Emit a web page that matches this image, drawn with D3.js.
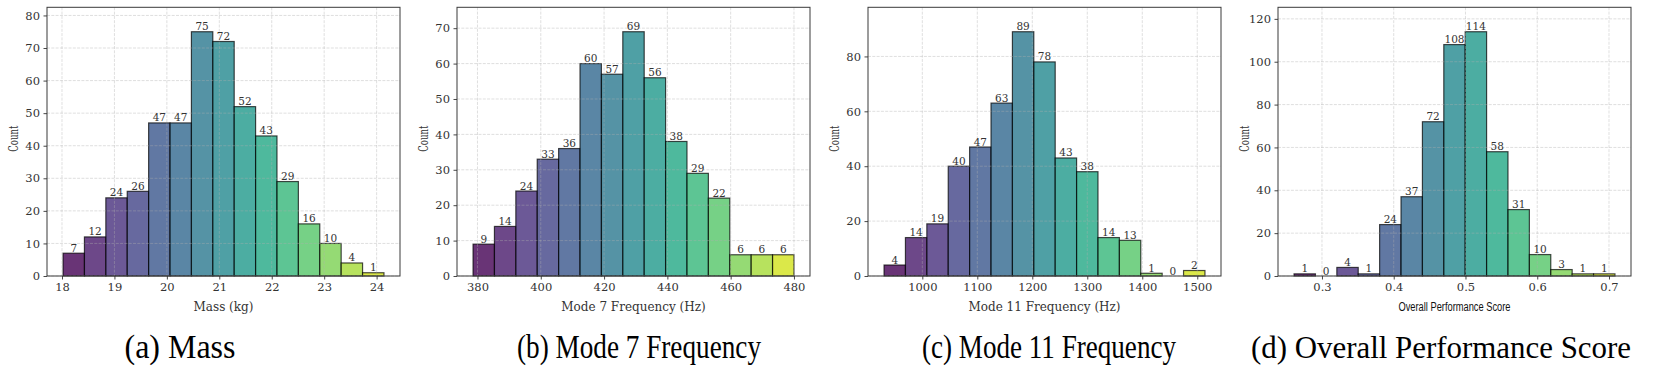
<!DOCTYPE html>
<html>
<head>
<meta charset="utf-8">
<script src="https://cdn.jsdelivr.net/npm/d3@7/dist/d3.min.js"></script>
<style>
  html, body { margin: 0; padding: 0; background: #ffffff; }
  svg { display: block; }
</style>
</head>
<body>
<svg id="chart" width="1661" height="386"></svg>
<script>
// ---------------- DATA ----------------
const massCounts = [7, 12, 24, 26, 47, 47, 75, 72, 52, 43, 29, 16, 10, 4, 1];
const massRange = [18.02, 24.14];
const massXTicks = [18, 19, 20, 21, 22, 23, 24];
const massYTicks = [0, 10, 20, 30, 40, 50, 60, 70, 80];

const mode7Counts = [9, 14, 24, 33, 36, 60, 57, 69, 56, 38, 29, 22, 6, 6, 6];
const mode7Range = [378.6, 480.0];
const mode7XTicks = [380, 400, 420, 440, 460, 480];
const mode7YTicks = [0, 10, 20, 30, 40, 50, 60, 70];

const mode11Counts = [4, 14, 19, 40, 47, 63, 89, 78, 43, 38, 14, 13, 1, 0, 2];
const mode11Range = [930.4, 1514.0];
const mode11XTicks = [1000, 1100, 1200, 1300, 1400, 1500];
const mode11YTicks = [0, 20, 40, 60, 80];

const scoreCounts = [1, 0, 4, 1, 24, 37, 72, 108, 114, 58, 31, 10, 3, 1, 1];
const scoreRange = [0.2611, 0.7083];
const scoreXTicks = [0.3, 0.4, 0.5, 0.6, 0.7];
const scoreYTicks = [0, 20, 40, 60, 80, 100, 120];

const xLabels = ["Mass (kg)", "Mode 7 Frequency (Hz)", "Mode 11 Frequency (Hz)", "Overall Performance Score"];
const captions = ["(a) Mass", "(b) Mode 7 Frequency", "(c) Mode 11 Frequency", "(d) Overall Performance Score"];
const yLabel = "Count";

// ---------------- LAYOUT ----------------
const panels = [
  { counts: massCounts, range: massRange, xTicks: massXTicks, yTicks: massYTicks, fmt: d3.format("d"), left: 47, capX: 180, capW: 111, xLabelFont: "DejaVu Serif" },
  { counts: mode7Counts, range: mode7Range, xTicks: mode7XTicks, yTicks: mode7YTicks, fmt: d3.format("d"), left: 457, capX: 639, capW: 244, xLabelFont: "DejaVu Serif" },
  { counts: mode11Counts, range: mode11Range, xTicks: mode11XTicks, yTicks: mode11YTicks, fmt: d3.format("d"), left: 868, capX: 1049, capW: 254, xLabelFont: "DejaVu Serif" },
  { counts: scoreCounts, range: scoreRange, xTicks: scoreXTicks, yTicks: scoreYTicks, fmt: d3.format(".1f"), left: 1278, capX: 1441, capW: 380, xLabelFont: "Liberation Sans" }
];

const W = 353, TOP = 7.3, BOTTOM = 276;
const svg = d3.select("#chart");
const serif = "DejaVu Serif";

panels.forEach((p, pi) => {
  const n = p.counts.length;
  const step = (p.range[1] - p.range[0]) / n;
  const edges = d3.range(n + 1).map(i => p.range[0] + i * step);
  const span = p.range[1] - p.range[0];
  const x = d3.scaleLinear()
    .domain([p.range[0] - 0.05 * span, p.range[1] + 0.05 * span])
    .range([p.left, p.left + W]);
  const y = d3.scaleLinear()
    .domain([0, d3.max(p.counts) * 1.1])
    .range([BOTTOM, TOP]);

  const g = svg.append("g");

  // bars
  const color = i => d3.interpolateViridis(i / n);
  g.selectAll("rect.bar").data(p.counts).join("rect")
    .attr("class", "bar")
    .attr("x", (d, i) => x(edges[i]))
    .attr("width", (d, i) => x(edges[i + 1]) - x(edges[i]))
    .attr("y", d => y(d))
    .attr("height", d => BOTTOM - y(d))
    .attr("fill", (d, i) => color(i))
    .attr("fill-opacity", 0.8)
    .attr("stroke", "#000")
    .attr("stroke-opacity", 0.7)
    .attr("stroke-width", 1.2);

  // grid on top of bars (matplotlib default axisbelow='line')
  const grid = g.append("g").attr("stroke", "#b0b0b0").attr("stroke-opacity", 0.5)
    .attr("stroke-width", 0.8).attr("stroke-dasharray", "3,1.3");
  grid.selectAll("line.gy").data(p.yTicks).join("line")
    .attr("x1", p.left).attr("x2", p.left + W)
    .attr("y1", d => y(d)).attr("y2", d => y(d));
  grid.selectAll("line.gx").data(p.xTicks).join("line")
    .attr("x1", d => x(d)).attr("x2", d => x(d))
    .attr("y1", TOP).attr("y2", BOTTOM);

  // value labels
  g.selectAll("text.val").data(p.counts).join("text")
    .attr("x", (d, i) => (x(edges[i]) + x(edges[i + 1])) / 2)
    .attr("y", d => y(d) - 1.5)
    .attr("text-anchor", "middle")
    .attr("font-family", serif)
    .attr("font-size", 10.5)
    .attr("fill", "#333")
    .text(d => d);

  // frame
  g.append("rect")
    .attr("x", p.left).attr("y", TOP)
    .attr("width", W).attr("height", BOTTOM - TOP)
    .attr("fill", "none").attr("stroke", "#3a3a3a").attr("stroke-width", 1);

  // axes
  const xAxis = d3.axisBottom(x).tickValues(p.xTicks).tickFormat(p.fmt).tickSize(3.5).tickPadding(3.5);
  const gx = g.append("g").attr("transform", `translate(0,${BOTTOM})`).call(xAxis);
  const yAxis = d3.axisLeft(y).tickValues(p.yTicks).tickFormat(d3.format("d")).tickSize(3.5).tickPadding(3.5);
  const gy = g.append("g").attr("transform", `translate(${p.left},0)`).call(yAxis);
  [gx, gy].forEach(a => {
    a.select(".domain").remove();
    a.selectAll(".tick line").attr("stroke", "#333").attr("stroke-width", 0.9);
    a.selectAll(".tick text").attr("font-family", serif).attr("font-size", 11.5).attr("fill", "#333");
  });

  // axis labels
  const xl = g.append("text")
    .attr("x", p.left + W / 2).attr("y", 311)
    .attr("text-anchor", "middle")
    .attr("font-family", p.xLabelFont)
    .attr("font-size", pi === 3 ? 12.5 : 12)
    .attr("fill", pi === 3 ? "#111" : "#333")
    .text(xLabels[pi]);
  if (pi === 3) xl.attr("textLength", 112).attr("lengthAdjust", "spacingAndGlyphs");

  g.append("text")
    .attr("transform", `translate(${p.left - 29},${(TOP + BOTTOM) / 2 - 3}) rotate(-90)`)
    .attr("text-anchor", "middle")
    .attr("font-family", serif)
    .attr("font-size", 12)
    .attr("fill", "#333")
    .attr("textLength", 26)
    .attr("lengthAdjust", "spacingAndGlyphs")
    .text(yLabel);

  // caption
  svg.append("text")
    .attr("x", p.capX).attr("y", 358)
    .attr("text-anchor", "middle")
    .attr("font-family", "Liberation Serif")
    .attr("font-size", pi === 3 ? 32 : 34)
    .attr("fill", "#000")
    .attr("textLength", p.capW)
    .attr("lengthAdjust", "spacingAndGlyphs")
    .text(captions[pi]);
});
</script>
</body>
</html>
